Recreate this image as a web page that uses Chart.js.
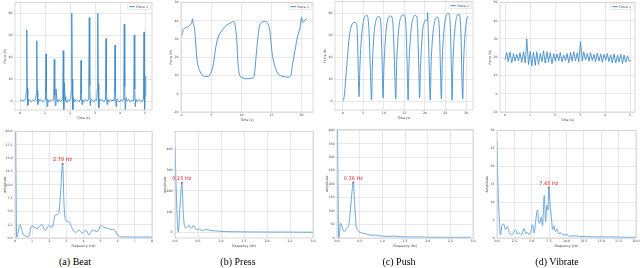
<!DOCTYPE html>
<html>
<head>
<meta charset="utf-8">
<script src="https://cdn.jsdelivr.net/npm/chart.js@4"></script>
<style>
body { margin: 0; width: 640px; height: 268px; background: #fff; position: relative; overflow: hidden; }
canvas { position: absolute; }
.cap { position: absolute; top: 256px; font: 10px/12px "Liberation Serif", serif; color: #000; transform: translateX(-50%); white-space: nowrap; }
</style>
</head>
<body>
<canvas id="ta"></canvas><canvas id="tb"></canvas><canvas id="tc"></canvas><canvas id="td"></canvas>
<canvas id="fa"></canvas><canvas id="fb"></canvas><canvas id="fc"></canvas><canvas id="fd"></canvas>
<div class="cap" style="left:75px">(a) Beat</div>
<div class="cap" style="left:238px">(b) Press</div>
<div class="cap" style="left:399px">(c) Push</div>
<div class="cap" style="left:557px">(d) Vibrate</div>
<script>
var FONT = 'DejaVu Sans';

// time domain signals
var beatTime = [
  0.00, 0.06, 0.12, 0.18, 0.23,
  0.25, 0.27, 0.29, 0.31, 0.34, 0.39, 0.45, 0.51, 0.57, 0.62,
  0.65, 0.67, 0.69, 0.71, 0.74, 0.79, 0.85, 0.91, 0.97, 1.00,
  1.02, 1.04, 1.06, 1.08, 1.11, 1.16, 1.22, 1.28, 1.33,
  1.35, 1.37, 1.39, 1.41, 1.44, 1.47, 1.50, 1.56, 1.62, 1.68,
  1.71, 1.73, 1.75, 1.77, 1.80, 1.83, 1.87, 1.93, 1.99, 2.03,
  2.05, 2.07, 2.09, 2.11, 2.14, 2.19, 2.25, 2.31, 2.37, 2.40,
  2.42, 2.44, 2.46, 2.48, 2.51, 2.56, 2.62, 2.68, 2.73,
  2.75, 2.77, 2.79, 2.81, 2.84, 2.89, 2.95, 3.01, 3.07,
  3.09, 3.11, 3.13, 3.15, 3.18, 3.23, 3.29, 3.35, 3.40,
  3.42, 3.44, 3.46, 3.48, 3.51, 3.56, 3.62, 3.68, 3.73, 3.76,
  3.78, 3.80, 3.82, 3.84, 3.87, 3.92, 3.98, 4.04, 4.10, 4.13,
  4.15, 4.17, 4.19, 4.21, 4.24, 4.29, 4.35, 4.41, 4.47, 4.53,
  4.55, 4.57, 4.59, 4.61, 4.64, 4.69, 4.75, 4.81, 4.87, 4.92,
  4.94, 4.96, 4.98, 5.00, 5.03];
var beatForce = [
  0.5, 1.0, 0.2, 0.8, 1.5,
  8, 65, 12, -4, 2, 0.5, -0.5, 1.2, 0.3, 1.0,
  6, 55, 10, -3, 2, 0.2, 1.4, -0.6, 0.8, 1.5,
  7, 43, 9, -5, 1.5, -1, 1.2, 0.4, 1.8,
  6, 38, 5, -4, 11, 3, -0.8, 1.5, -0.4, 1.0,
  5, 46, -12, 17, 4, 0.5, -1.2, 1.3, 0.2, 1.6,
  9, 80, 20, -12, 3, -0.5, 1.3, 0.6, -0.8, 1.1,
  5, 37, 7, -3, 1.2, -0.5, 1.6, 0.3, 1.2,
  10, 76, 14, -4, 1.8, 0.4, -0.7, 1.4, 0.6,
  11, 80, 16, -6, 2, 0.3, 1.5, -0.4, 1.2,
  7, 57, 10, -3, 1.5, -0.6, 1.3, 0.2, 1.0, 0.4,
  6, 51, 9, -5, 2, 0.6, -1, 1.4, 0.3, 1.2,
  9, 70, 13, -12, 3, 0.2, 1.5, -0.6, 1.0, 0.5,
  7, 60, 11, -5, 1.6, -0.4, 1.2, 0.5, -0.8, 1.3,
  8, 63, -12, 5, 23];

var pressTime = [0, 0.28, 0.56, 1.1, 1.4, 1.7, 1.8, 1.9, 2.2, 2.4, 2.6, 2.9, 3.3, 3.9, 4.4,
  4.8, 5.3, 5.7, 6.1, 6.7, 7.2, 7.8, 8.3, 8.6, 8.9, 9.2, 9.4, 9.7, 10.2, 10.8,
  11.7, 12.1, 12.5, 12.9, 13.3, 13.9, 14.4, 14.7, 15.1, 15.6, 16.1, 16.9, 17.8, 18.2, 18.5,
  18.9, 19.3, 19.7, 20.0, 20.2, 20.6, 20.8];
var pressForce = [31.8, 34.9, 36, 36.7, 37.8, 39, 41, 39, 34.5, 25.5, 18, 13.6, 10.9, 9.5, 9.5,
  10.9, 16.4, 25.5, 31, 34.5, 36.7, 38.2, 39, 39.6, 37.8, 29, 16.4, 10, 8.7, 8.2,
  8.5, 10, 23.6, 35.5, 39, 39.5, 38.2, 34.5, 21.8, 14.5, 10.9, 9.5, 9.1, 10, 16.4,
  23.6, 31, 35.5, 41.8, 39, 40.5, 41];

var pushTime = [0.15, 0.4, 0.7, 1.0, 1.35, 1.75, 2.2, 2.6, 3.0, 3.35, 3.55, 3.75, 3.95,
  4.15, 4.4, 4.75, 5.1, 5.5, 5.8, 6.1, 6.4, 6.7, 7.0,
  7.2, 7.45, 7.8, 8.2, 8.6, 9.0, 9.3, 9.55, 9.8,
  10.0, 10.3, 10.65, 11.0, 11.5, 11.9, 12.2, 12.5, 12.9,
  13.1, 13.4, 13.75, 14.2, 14.7, 15.1, 15.4, 15.65, 15.9,
  16.1, 16.4, 16.75, 17.2, 17.6, 18.0, 18.25, 18.5, 18.7,
  18.9, 19.2, 19.5, 19.9, 20.3, 20.55, 20.65, 20.75, 20.95, 21.3,
  21.5, 21.8, 22.15, 22.6, 23.0, 23.35, 23.6, 23.8, 24.0,
  24.2, 24.5, 24.85, 25.3, 25.7, 26.0, 26.25, 26.45, 26.6,
  26.8, 27.1, 27.45, 27.9, 28.3, 28.6, 28.85, 29.0, 29.2,
  29.4, 29.7, 30.0, 30.3, 30.6];
var pushForce = [0.5, 6, 20, 33, 50, 63, 69.5, 71.5, 71.6, 70.5, 60, 30, 4,
  30, 50, 66, 74, 77.5, 78.2, 76, 62, 30, 1,
  32, 53, 68, 75, 77, 76.5, 68, 40, 3,
  30, 52, 68, 75, 77.5, 77, 70, 45, 2,
  33, 55, 70, 77, 78.5, 77.5, 66, 35, 1,
  32, 54, 69, 76.5, 78, 77, 64, 30, 3,
  30, 52, 66, 72.5, 74, 73, 80.5, 70, 45, 1,
  33, 55, 68, 75, 76.5, 74, 55, 25, 2,
  35, 58, 72, 79, 80, 78, 60, 25, 1,
  33, 56, 71, 78.5, 79, 74, 50, 20, 2,
  34, 57, 70, 76, 77];

var vibTime = [0.00, 0.07, 0.13, 0.20, 0.27, 0.34, 0.40, 0.47, 0.54, 0.60, 0.67, 0.74, 0.81, 0.87, 0.94,
  1.01, 1.07, 1.14, 1.21, 1.27, 1.34, 1.41, 1.48, 1.54, 1.61, 1.68, 1.74, 1.81, 1.88, 1.95,
  2.01, 2.08, 2.15, 2.21, 2.28, 2.35, 2.42, 2.48, 2.55, 2.62, 2.68, 2.75, 2.82, 2.89, 2.95,
  3.02, 3.09, 3.15, 3.22, 3.29, 3.36, 3.42, 3.49, 3.56, 3.62, 3.69, 3.76, 3.83, 3.89, 3.96,
  4.03, 4.09, 4.16, 4.23, 4.29, 4.36, 4.43, 4.50, 4.56, 4.63, 4.70, 4.76, 4.83, 4.90, 4.97, 5.03];
var vibForce = [18.5, 22.5, 17.5, 22.8, 17.0, 22.0, 17.8, 21.5, 18.0, 22.5, 17.2, 23.0, 16.8, 30.0, 16.0,
  23.2, 15.2, 22.8, 15.5, 23.0, 16.0, 22.0, 17.5, 23.5, 16.8, 23.0, 17.2, 22.5, 16.5, 22.0,
  17.8, 21.8, 18.0, 22.5, 17.5, 21.2, 18.2, 22.0, 17.0, 22.6, 17.8, 23.0, 18.0, 22.4, 17.5,
  28.5, 18.0, 23.0, 18.5, 22.0, 17.8, 22.5, 18.2, 21.6, 17.5, 22.2, 18.0, 21.8, 17.2, 21.5,
  18.3, 22.0, 17.6, 21.2, 17.0, 21.8, 16.8, 21.0, 17.4, 21.6, 16.5, 21.2, 17.2, 20.8, 17.6, 18.5];

// spectra
var beatFreq = [0, 0.1, 0.29, 0.49, 0.79, 0.98, 1.28, 1.57, 1.77, 1.96, 2.16, 2.36, 2.55, 2.67, 2.78, 2.86,
  2.95, 3.14, 3.34, 3.54, 3.73, 3.93, 4.13, 4.32, 4.52, 4.81, 5.01, 5.2, 5.4, 5.6, 5.8, 5.99, 6.19, 6.5, 7.0, 7.5, 8.0];
var beatAmp = [40, 0.1, 2.5, 0.6, 0.3, 2.3, 1.8, 2.5, 1.4, 2.3, 2.0, 4.3, 4.6, 9, 13.9, 6.5,
  3.4, 3.1, 1.8, 1.0, 1.5, 0.9, 1.5, 0.6, 1.5, 1.2, 2.3, 2.0, 1.8, 1.6, 1.5, 0.6, 0.2, 0.2, 0.15, 0.2, 0.15];

var pressFreq = [0, 0.03, 0.07, 0.11, 0.15, 0.18, 0.21, 0.24, 0.27, 0.30, 0.33, 0.36, 0.39, 0.42, 0.45, 0.49,
  0.53, 0.58, 0.64, 0.70, 0.76, 0.84, 0.95, 1.1, 1.3, 1.6, 1.9, 2.2, 2.5, 2.8, 3.0];
var pressAmp = [410, 180, 2, 130, 239, 95, 26, 22, 27, 35, 24, 20, 33, 30, 18, 14,
  16, 10, 12, 14, 9, 8, 6, 4, 3, 2.5, 2, 1.5, 1.5, 1, 1];

var pushFreq = [0, 0.04, 0.08, 0.12, 0.16, 0.21, 0.26, 0.30, 0.33, 0.36, 0.39, 0.42, 0.47, 0.53, 0.60,
  0.68, 0.76, 0.85, 0.95, 1.1, 1.25, 1.4, 1.6, 1.8, 2.0, 2.2, 2.4, 2.6, 2.8, 2.95];
var pushAmp = [620, 0, 55, 38, 24, 36, 50, 110, 170, 205, 125, 48, 26, 20, 17,
  13, 10, 11, 8, 6, 7, 5, 4, 4, 3, 3, 2.5, 2.5, 2.5, 3];

var vibFreq = [0, 0.15, 0.34, 0.49, 0.73, 0.97, 1.21, 1.46, 1.8, 2.18, 2.43, 2.67, 2.9, 3.25, 3.54, 3.88,
  4.13, 4.37, 4.6, 4.85, 5.1, 5.34, 5.58, 5.83, 5.97, 6.17, 6.36, 6.55, 6.8, 6.99, 7.18, 7.33, 7.45,
  7.67, 7.82, 8.0, 8.2, 8.4, 8.64, 8.9, 9.22, 9.56, 9.95, 10.4, 11.2, 11.9, 13.3, 14.8, 16.7, 18.7, 20];
var vibAmp = [27, 14, 5, 0.9, 3.7, 3.9, 2.3, 3.2, 1.4, 0.9, 1.8, 2.3, 1.2, 1.4, 0.9, 2.7,
  1.2, 1.6, 0.9, 1.8, 3.7, 1.4, 5, 7.8, 5, 4.1, 5.9, 3.4, 11.9, 4.6, 9.1, 7.8, 14.1,
  8.7, 5.9, 2.3, 3.4, 1.8, 2.5, 1.2, 1.4, 0.8, 1.0, 0.5, 0.6, 0.4, 0.35, 0.3, 0.3, 0.2, 0.2];

var peakFreq = [2.78, 0.15, 0.36, 7.45];
var peakAmp = [13.9, 239, 205, 14.1];

// tick labels
var timeTicks = [[0, 1, 2, 3, 4, 5], [0, 5, 10, 15, 20], [0, 5, 10, 15, 20, 25, 30], [0, 1, 2, 3, 4, 5]];
var forceTicks = [[0, 20, 40, 60, 80], [-10, 0, 10, 20, 30, 40, 50], [0, 20, 40, 60, 80], [-10, 0, 10, 20, 30, 40, 50]];
var freqTicks = [[0, 1, 2, 3, 4, 5, 6, 7, 8], [0, 0.5, 1, 1.5, 2, 2.5, 3], [0, 0.5, 1, 1.5, 2, 2.5, 3],
  [0, 2.5, 5, 7.5, 10, 12.5, 15, 17.5, 20]];
var ampTicks = [[0, 2.5, 5, 7.5, 10, 12.5, 15, 17.5, 20], [0, 100, 200, 300, 400],
  [0, 50, 100, 150, 200, 250, 300, 350, 400], [0, 5, 10, 15, 20, 25, 30]];

var LINE = '#3f8cca';
var LINE2 = '#5a9fd6';

function pts(xs, ys) {
  return xs.map(function (x, i) { return {x: x, y: ys[i]}; });
}

// thin grey box around the plot area, like matplotlib spines
var frame = {
  id: 'frame',
  afterDatasetsDraw: function (c) {
    var a = c.chartArea, ctx = c.ctx;
    ctx.save();
    ctx.strokeStyle = '#cfcfcf';
    ctx.lineWidth = 0.8;
    ctx.strokeRect(a.left, a.top, a.right - a.left, a.bottom - a.top);
    ctx.restore();
  }
};

// small legend box in the top right corner
var boxLegend = {
  id: 'boxLegend',
  afterDraw: function (c, args, o) {
    if (!o || !o.show) return;
    var a = c.chartArea, ctx = c.ctx, text = c.data.datasets[0].label;
    ctx.save();
    ctx.font = '3.2px "' + FONT + '"';
    var w = ctx.measureText(text).width + 11, h = 5.5, x = a.right - w - 1.5, y = a.top + 1.5;
    ctx.fillStyle = 'rgba(255,255,255,0.9)';
    ctx.strokeStyle = '#d4d4d4';
    ctx.lineWidth = 0.5;
    ctx.fillRect(x, y, w, h);
    ctx.strokeRect(x, y, w, h);
    ctx.strokeStyle = LINE;
    ctx.lineWidth = 1;
    ctx.beginPath(); ctx.moveTo(x + 1.5, y + h / 2); ctx.lineTo(x + 7, y + h / 2); ctx.stroke();
    ctx.fillStyle = '#333';
    ctx.textBaseline = 'middle';
    ctx.fillText(text, x + 8.5, y + h / 2);
    ctx.restore();
  }
};

// red peak annotation
var peakLabel = {
  id: 'peak',
  afterDatasetsDraw: function (c, args, o) {
    if (!o || o.text == null) return;
    var x = c.scales.x.getPixelForValue(o.f), y = c.scales.y.getPixelForValue(o.a), ctx = c.ctx;
    ctx.save();
    ctx.fillStyle = '#e8262a';
    ctx.font = '5px "' + FONT + '"';
    ctx.textAlign = 'center';
    ctx.textBaseline = 'bottom';
    ctx.fillText(o.text, x, y - 1.5);
    ctx.restore();
  }
};

function panel(id, area, xr, yr, xt, yt, xd, yd, xTitle, yTitle, sets, extra) {
  var L = area[0], T = area[1], R = area[2], B = area[3];
  var cv = document.getElementById(id);
  cv.width = R - L + 26;
  cv.height = B - T + 19;
  cv.style.left = (L - 20) + 'px';
  cv.style.top = (T - 3) + 'px';
  var tickFont = {family: FONT, size: 3.2};
  var grid = {color: '#e2e2e2', lineWidth: 0.8, drawTicks: false};
  var plugins = {legend: {display: false}, tooltip: {enabled: false}};
  for (var k in extra) plugins[k] = extra[k];
  return new Chart(cv, {
    type: 'line',
    data: {datasets: sets},
    options: {
      responsive: false,
      animation: false,
      events: [],
      layout: {padding: {top: 3, right: 6, left: 0, bottom: 0}},
      plugins: plugins,
      scales: {
        x: {
          type: 'linear', min: xr[0], max: xr[1],
          afterBuildTicks: function (s) { s.ticks = xt.map(function (v) { return {value: v}; }); },
          afterFit: function (s) { s.height = 16; },
          ticks: {font: tickFont, color: '#444', padding: 1, autoSkip: false, maxRotation: 0,
            callback: function (v) { return v.toFixed(xd); }},
          grid: grid,
          border: {display: false},
          title: {display: true, text: xTitle, font: tickFont, color: '#333', padding: {top: 0, bottom: 6}}
        },
        y: {
          type: 'linear', min: yr[0], max: yr[1],
          afterBuildTicks: function (s) { s.ticks = yt.map(function (v) { return {value: v}; }); },
          afterFit: function (s) { s.width = 20; },
          ticks: {font: tickFont, color: '#444', padding: 2.5, autoSkip: false,
            callback: function (v) { return v.toFixed(yd); }},
          grid: grid,
          border: {display: false},
          title: {display: true, text: yTitle, font: tickFont, color: '#333', padding: {top: 8, bottom: 0}}
        }
      }
    },
    plugins: [frame, peakLabel, boxLegend]
  });
}

function timeSet(xs, ys, smooth) {
  return [{label: 'Force 1', data: pts(xs, ys), borderColor: LINE, borderWidth: 0.9,
    pointRadius: 0, fill: false, cubicInterpolationMode: smooth ? 'monotone' : 'default', tension: 0}];
}

function freqSet(xs, ys, i) {
  return [
    {label: 'FFT', data: pts(xs, ys), borderColor: LINE2, borderWidth: 0.9, pointRadius: 0,
      fill: false, cubicInterpolationMode: 'monotone'},
    {label: 'peak', data: [{x: peakFreq[i], y: peakAmp[i]}], showLine: false,
      pointRadius: 1, pointBackgroundColor: '#d62728', pointBorderWidth: 0}
  ];
}

function peakOpt(i) {
  return {peak: {f: peakFreq[i], a: peakAmp[i], text: peakFreq[i].toFixed(2) + ' Hz'}};
}

// top row: force over time
panel('ta', [15, 1, 152, 110], [-0.2, 5.28], [-8.1, 89.9], timeTicks[0], forceTicks[0], 0, 0,
  'Time (s)', 'Force (N)', timeSet(beatTime, beatForce, false), {boxLegend: {show: true}});
panel('tb', [181, 1, 313, 112], [-0.1, 21.9], [-10, 50], timeTicks[1], forceTicks[1], 0, 0,
  'Time (s)', 'Force (N)', timeSet(pressTime, pressForce, true), {boxLegend: {show: true}});
panel('tc', [335, 0, 473, 110], [-1.9, 31.7], [-8.1, 90.8], timeTicks[2], forceTicks[2], 0, 0,
  'Time (s)', 'Force (N)', timeSet(pushTime, pushForce, true), {boxLegend: {show: true}});
panel('td', [500, 1, 635, 112], [-0.2, 5.2], [-10, 50], timeTicks[3], forceTicks[3], 0, 0,
  'Time (s)', 'Force (N)', timeSet(vibTime, vibForce, false), {boxLegend: {show: true}});

// bottom row: spectra
panel('fa', [15, 130, 152, 238], [0, 8], [0, 20], freqTicks[0], ampTicks[0], 0, 1,
  'Frequency (Hz)', 'Amplitude', freqSet(beatFreq, beatAmp, 0), peakOpt(0));
panel('fb', [175, 130, 313, 238], [0, 3], [-27, 487], freqTicks[1], ampTicks[1], 1, 0,
  'Frequency (Hz)', 'Amplitude', freqSet(pressFreq, pressAmp, 1), peakOpt(1));
panel('fc', [337, 128, 473, 238], [0, 3], [0, 403], freqTicks[2], ampTicks[2], 1, 0,
  'Frequency (Hz)', 'Amplitude', freqSet(pushFreq, pushAmp, 2), peakOpt(2));
panel('fd', [497, 129, 636, 238], [0, 20], [0, 30], freqTicks[3], ampTicks[3], 1, 0,
  'Frequency (Hz)', 'Amplitude', freqSet(vibFreq, vibAmp, 3), peakOpt(3));
</script>
</body>
</html>
